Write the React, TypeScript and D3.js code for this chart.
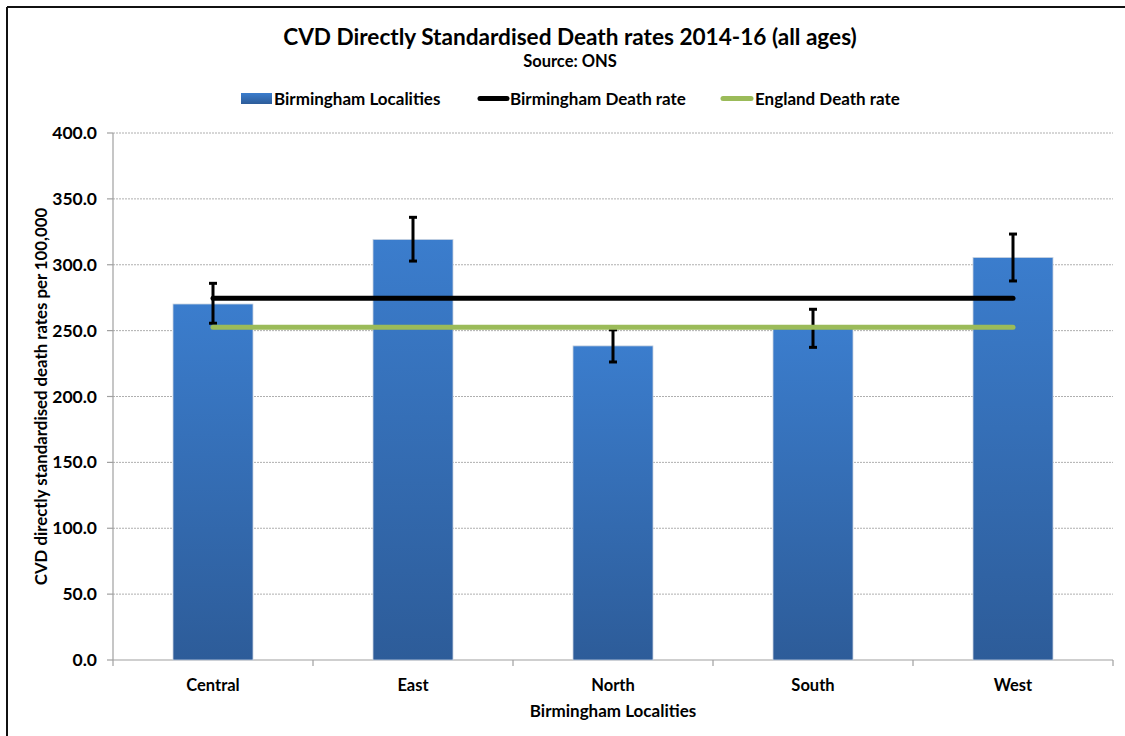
import React from "react";
import * as d3 from "d3";

const categories = ["Central", "East", "North", "South", "West"];
const rates = [270.2, 319.2, 238.4, 251.6, 305.5];
const errLow = [255.6, 302.8, 226.2, 237.3, 287.7];
const errHigh = [285.9, 336.0, 250.6, 266.2, 323.3];
const birminghamRate = 274.6;
const englandRate = 252.6;
const yTicks = [0, 50, 100, 150, 200, 250, 300, 350, 400];

const W = 1125;
const H = 736;
const FONT = "Lato, 'Open Sans', sans-serif";

export default function App() {
  const left = 113, right = 1113, top = 133, bottom = 660;
  const x = d3.scaleBand<string>().domain(categories).range([left, right]).paddingInner(0).paddingOuter(0);
  const y = d3.scaleLinear().domain([0, 400]).range([bottom, top]);
  const bw = x.bandwidth() * 0.4;
  const cx = (c: string) => (x(c) as number) + x.bandwidth() / 2;
  const lineX0 = cx(categories[0]);
  const lineX1 = cx(categories[categories.length - 1]);
  const boundaries = d3.range(categories.length + 1).map((i) => left + i * x.bandwidth());

  return (
    <svg width={W} height={H} style={{ position: "absolute", left: 0, top: 0, background: "#fff" }} fontFamily={FONT}>
      <defs>
        <linearGradient id="barGrad" x1="0" y1="0" x2="0" y2="1">
          <stop offset="0%" stopColor="#3B7DCD" />
          <stop offset="100%" stopColor="#2D5C99" />
        </linearGradient>
      </defs>
      <rect x={0} y={0} width={W} height={H} fill="#fff" />
      {/* frame */}
      <line x1={7} y1={7} x2={W} y2={7} stroke="#111" strokeWidth={2} />
      <line x1={7} y1={7} x2={7} y2={H} stroke="#111" strokeWidth={2} />

      {/* titles */}
      <text x={570} y={45} textAnchor="middle" fontSize={22.6} fontWeight={700} fill="#000">
        CVD Directly Standardised Death rates 2014-16 (all ages)
      </text>
      <text x={570} y={67} textAnchor="middle" fontSize={16.5} fontWeight={700} fill="#000">
        Source: ONS
      </text>

      {/* legend */}
      <rect x={241} y={93} width={31} height={11} fill="url(#barGrad)" />
      <text x={274} y={105} fontSize={17} fontWeight={700} fill="#000">Birmingham Localities</text>
      <line x1={480} y1={98.5} x2={507} y2={98.5} stroke="#000" strokeWidth={5} strokeLinecap="round" />
      <text x={510} y={105} fontSize={17} fontWeight={700} fill="#000">Birmingham Death rate</text>
      <line x1={723} y1={98.5} x2={751} y2={98.5} stroke="#9BBB59" strokeWidth={5} strokeLinecap="round" />
      <text x={755} y={105} fontSize={17} fontWeight={700} fill="#000">England Death rate</text>

      {/* gridlines */}
      {yTicks.filter((t) => t > 0).map((t) => (
        <line key={"g" + t} x1={left} x2={right} y1={y(t)} y2={y(t)} stroke="#9a9a9a" strokeWidth={0.8} strokeDasharray="2,1" />
      ))}

      {/* axes */}
      <line x1={left} x2={left} y1={top} y2={bottom} stroke="#a0a0a0" strokeWidth={1.2} />
      <line x1={left} x2={right} y1={bottom} y2={bottom} stroke="#a0a0a0" strokeWidth={1.2} />
      {yTicks.map((t) => (
        <g key={"t" + t}>
          <line x1={left - 6} x2={left} y1={y(t)} y2={y(t)} stroke="#a0a0a0" strokeWidth={1.2} />
          <text x={97} y={y(t) + 6} textAnchor="end" fontSize={17.5} fontWeight={700} fill="#000">
            {d3.format(".1f")(t)}
          </text>
        </g>
      ))}
      {boundaries.map((bx, i) => (
        <line key={"xb" + i} x1={bx} x2={bx} y1={bottom} y2={bottom + 6} stroke="#a0a0a0" strokeWidth={1.2} />
      ))}

      {/* bars */}
      {categories.map((c, i) => (
        <rect key={c} x={cx(c) - bw / 2} y={y(rates[i])} width={bw} height={bottom - y(rates[i])}
          fill="url(#barGrad)" stroke="#c8d3e0" strokeWidth={0.8} />
      ))}

      {/* error bars */}
      {categories.map((c, i) => (
        <g key={"e" + c} stroke="#000" strokeWidth={3}>
          <line x1={cx(c)} x2={cx(c)} y1={y(errLow[i])} y2={y(errHigh[i])} />
          <line x1={cx(c) - 4} x2={cx(c) + 4} y1={y(errLow[i])} y2={y(errLow[i])} />
          <line x1={cx(c) - 4} x2={cx(c) + 4} y1={y(errHigh[i])} y2={y(errHigh[i])} />
        </g>
      ))}

      {/* reference lines */}
      <line x1={lineX0} x2={lineX1} y1={y(birminghamRate)} y2={y(birminghamRate)} stroke="#000" strokeWidth={5} strokeLinecap="round" />
      <line x1={lineX0} x2={lineX1} y1={y(englandRate)} y2={y(englandRate)} stroke="#9BBB59" strokeWidth={5} strokeLinecap="round" />

      {/* x labels */}
      {categories.map((c) => (
        <text key={"xl" + c} x={cx(c)} y={691} textAnchor="middle" fontSize={16.5} fontWeight={700} fill="#000">{c}</text>
      ))}
      <text x={613} y={717} textAnchor="middle" fontSize={17} fontWeight={700} fill="#000">Birmingham Localities</text>
      <text transform={`translate(47, ${(top + bottom) / 2}) rotate(-90)`} textAnchor="middle" fontSize={16.8} fontWeight={700} fill="#000">
        CVD directly standardised death rates per 100,000
      </text>
    </svg>
  );
}
